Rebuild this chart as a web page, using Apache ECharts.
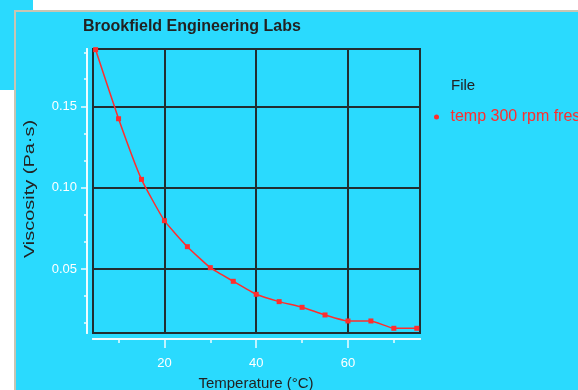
<!DOCTYPE html>
<html><head><meta charset="utf-8">
<script src="https://cdn.jsdelivr.net/npm/echarts@6/dist/echarts.min.js"></script>
<style>html,body{margin:0;padding:0;background:#fff}#c{width:578px;height:390px}</style>
</head><body><div id="c"></div>
<script>
const seriesName = 'temp 300 rpm fres';
const temperatures = [5, 10, 15, 20, 25, 30, 35, 40, 45, 50, 55, 60, 65, 70, 75];
const viscosity = [0.1849, 0.1424, 0.1051, 0.0797, 0.0637, 0.0508, 0.0424, 0.0344, 0.0299, 0.0264, 0.0217, 0.0180, 0.0180, 0.0135, 0.0135];
const xMajorTicks = [20, 40, 60];
const xMinorTicks = [10, 30, 50, 70];
const yMajorTicks = [0.05, 0.10, 0.15];
const yMinorTicks = [0.0167, 0.0333, 0.0667, 0.0833, 0.1167, 0.1333, 0.1667, 0.1833];
const xRange = [4.43, 75.7];
const yRange = [0.0106, 0.1853];

const CYAN = '#2adafe';
const DARK = '#222d30';
const RED = '#ff2d2d';
const FONT = "'Liberation Sans', Arial, sans-serif";

const chart = echarts.init(document.getElementById('c'), null, {renderer: 'canvas'});

function decoAxis(dim, ticks, len, labels) {
  const isX = dim === 'x';
  return {
    type: 'value',
    min: isX ? xRange[0] : yRange[0],
    max: isX ? xRange[1] : yRange[1],
    position: isX ? 'bottom' : 'left',
    offset: 6,
    axisLine: {show: true, lineStyle: {color: '#eefcff', width: 2}},
    axisTick: {show: true, customValues: ticks, length: len, inside: false, lineStyle: {color: '#eefcff', width: 1.5}},
    axisLabel: labels ? {
      show: true, customValues: labels, color: '#ffffff', fontSize: 13, fontFamily: FONT,
      margin: isX ? 18 : 10,
      formatter: v => isX ? String(v) : Number(v).toFixed(2)
    } : {show: false},
    splitLine: {show: false}
  };
}

const option = {
  backgroundColor: '#ffffff',
  animation: false,
  graphic: [
    {type: 'rect', shape: {x: 0, y: 0, width: 33, height: 90}, style: {fill: CYAN}, z: -10},
    {type: 'rect', shape: {x: 15, y: 11, width: 563, height: 379}, style: {fill: CYAN}, z: -9},
    {type: 'line', shape: {x1: 14, y1: 11, x2: 578, y2: 11}, style: {stroke: '#c8c5b3', lineWidth: 2}, z: -8},
    {type: 'line', shape: {x1: 15, y1: 11, x2: 15, y2: 390}, style: {stroke: '#c8c5b3', lineWidth: 2}, z: -8},
    {type: 'text', x: 30, y: 189, rotation: Math.PI / 2, scaleX: 1.33,
      style: {text: 'Viscosity (Pa·s)', fill: '#222', font: "15px 'Liberation Sans', Arial, sans-serif", align: 'center', verticalAlign: 'middle'}},
    {type: 'text', x: 451, y: 86,
      style: {text: 'File', fill: '#222', font: "15px 'Liberation Sans', Arial, sans-serif", align: 'left', verticalAlign: 'middle'}},
    {type: 'text', x: 256, y: 384,
      style: {text: 'Temperature (°C)', fill: '#222', font: "15px 'Liberation Sans', Arial, sans-serif", align: 'center', verticalAlign: 'middle'}}
  ],
  title: {
    text: 'Brookfield Engineering Labs', left: 83, top: 19, padding: 0,
    textStyle: {fontSize: 16, fontWeight: 'bold', color: '#222', fontFamily: FONT}
  },
  legend: {
    left: 434, top: 109, padding: 0, itemWidth: 6, itemHeight: 5,
    data: [{name: seriesName, icon: 'circle'}],
    textStyle: {color: RED, fontSize: 16, fontFamily: FONT, padding: [0, 0, 0, 6]},
    itemStyle: {color: RED}
  },
  grid: {left: 93, top: 49, width: 327, height: 284, show: true, borderColor: DARK, borderWidth: 2, backgroundColor: 'transparent'},
  xAxis: [
    {type: 'value', min: xRange[0], max: xRange[1], splitNumber: 3,
      axisLine: {show: false}, axisTick: {show: false}, axisLabel: {show: false},
      splitLine: {show: true, lineStyle: {color: DARK, width: 2}}},
    decoAxis('x', xMajorTicks, 9, xMajorTicks),
    decoAxis('x', xMinorTicks, 4, null)
  ],
  yAxis: [
    {type: 'value', min: yRange[0], max: yRange[1], splitNumber: 3,
      axisLine: {show: false}, axisTick: {show: false}, axisLabel: {show: false},
      splitLine: {show: true, lineStyle: {color: DARK, width: 2}}},
    decoAxis('y', yMajorTicks, 6, yMajorTicks),
    decoAxis('y', yMinorTicks, 3, null)
  ],
  series: [{
    name: seriesName, type: 'line', xAxisIndex: 0, yAxisIndex: 0,
    data: temperatures.map((t, i) => [t, viscosity[i]]),
    smooth: 0.15,
    symbol: 'rect', symbolSize: 5, showSymbol: true,
    itemStyle: {color: RED}, lineStyle: {color: RED, width: 1.5}
  }]
};
chart.setOption(option);
</script></body></html>
